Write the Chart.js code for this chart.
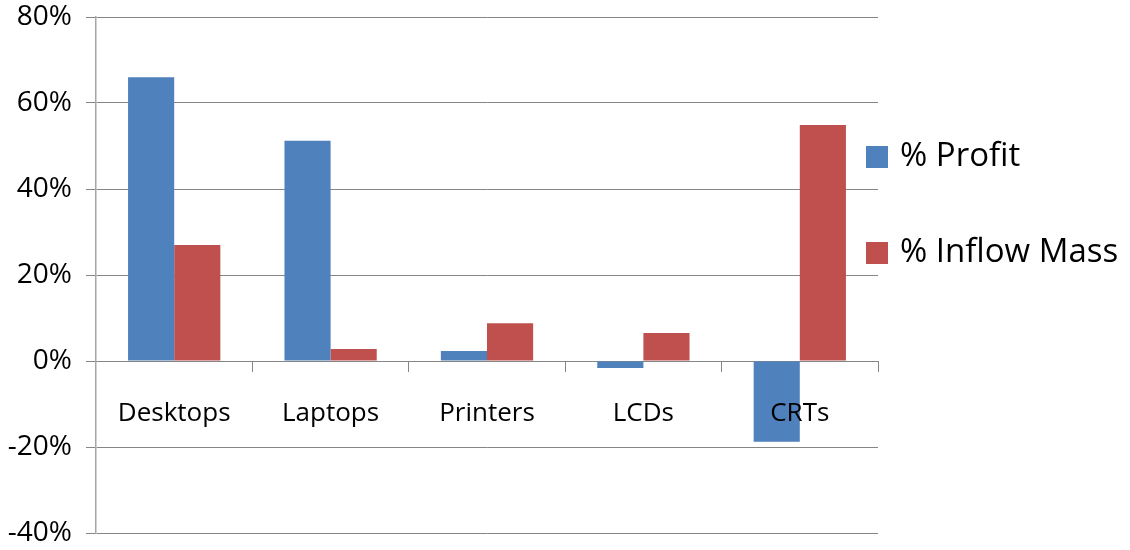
<!DOCTYPE html>
<html>
<head>
<meta charset="utf-8">
<script src="https://cdn.jsdelivr.net/npm/chart.js@4/dist/chart.umd.min.js"></script>
<style>
  html, body { margin: 0; padding: 0; background: #fff; }
  #wrap { width: 1130px; height: 550px; }
</style>
</head>
<body>
<div id="wrap"><canvas id="c" width="1130" height="550"></canvas></div>
<script>
const categories = ['Desktops', 'Laptops', 'Printers', 'LCDs', 'CRTs'];
const profitValues = [66.0, 51.2, 2.3, -1.6, -18.8];
const inflowValues = [27.0, 2.8, 8.8, 6.5, 54.9];
const seriesNames = ['% Profit', '% Inflow Mass'];
const seriesColors = ['#4F81BD', '#C0504D'];
const yMin = -40, yMax = 80, yStep = 20;

const FONT = "'Open Sans', 'DejaVu Sans', sans-serif";
const GRID = '#868686';

const sideLegend = {
  id: 'sideLegend',
  afterDraw(chart) {
    const ctx = chart.ctx;
    ctx.save();
    ctx.font = "33px " + FONT;
    ctx.textBaseline = 'middle';
    ctx.textAlign = 'left';
    const x0 = 866, yCenters = [157, 253];
    chart.data.datasets.forEach((ds, i) => {
      const yc = yCenters[i];
      ctx.fillStyle = ds.backgroundColor;
      ctx.fillRect(x0, yc - 11, 22, 22);
      ctx.fillStyle = '#000';
      ctx.fillText(ds.label, x0 + 34, yc);
    });
    ctx.restore();
  }
};

new Chart(document.getElementById('c'), {
  type: 'bar',
  data: {
    labels: categories,
    datasets: [
      { label: seriesNames[0], data: profitValues, backgroundColor: seriesColors[0], borderWidth: 0 },
      { label: seriesNames[1], data: inflowValues, backgroundColor: seriesColors[1], borderWidth: 0 }
    ]
  },
  options: {
    responsive: false,
    animation: false,
    devicePixelRatio: 1,
    layout: { padding: { left: 0, right: 252, top: 0, bottom: 0 } },
    datasets: { bar: { categoryPercentage: 0.59, barPercentage: 1.0 } },
    plugins: {
      legend: { display: false },
      tooltip: { enabled: false }
    },
    scales: {
      x: {
        position: { y: 0 },
        afterFit(scale) { scale.paddingTop = 0; scale.paddingBottom = 0; },
        grid: {
          offset: true,
          drawOnChartArea: false,
          drawTicks: true,
          tickLength: 10,
          color: GRID,
          lineWidth: 1
        },
        border: { display: true, color: GRID, width: 1 },
        ticks: {
          z: 1,
          color: '#000',
          font: { family: FONT, size: 26 },
          padding: 27,
          maxRotation: 0,
          autoSkip: false
        }
      },
      y: {
        min: yMin,
        max: yMax,
        afterFit(scale) { scale.width = 96; scale.paddingTop = 17; scale.paddingBottom = 17; },
        grid: {
          color: GRID,
          lineWidth: 1,
          drawTicks: true,
          tickLength: 10
        },
        border: { display: true, color: '#a6a6a6', width: 1.5 },
        ticks: {
          stepSize: yStep,
          color: '#000',
          font: { family: FONT, size: 28 },
          padding: 14,
          callback: v => v + '%'
        }
      }
    }
  },
  plugins: [sideLegend]
});
</script>
</body>
</html>
